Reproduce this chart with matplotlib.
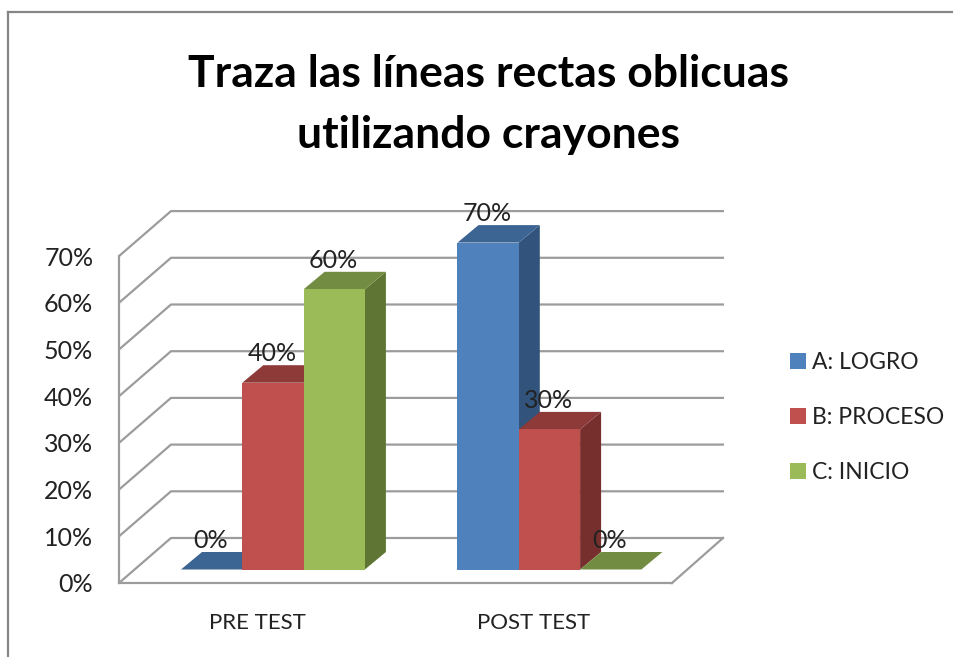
import matplotlib
matplotlib.use("Agg")
import matplotlib.pyplot as plt
from matplotlib.lines import Line2D
from matplotlib.patches import Patch

plt.rcParams['font.family'] = ['Lato', 'DejaVu Sans']

categories = ['PRE TEST', 'POST TEST']
series_names = ['A: LOGRO', 'B: PROCESO', 'C: INICIO']
logro = [0, 70]
proceso = [40, 30]
inicio = [60, 0]
y_ticks = [0, 10, 20, 30, 40, 50, 60, 70]
title = 'Traza las líneas rectas oblicuas\nutilizando crayones'

front_colors = ['#4F81BD', '#C0504D', '#9BBB59']
top_colors = ['#3C6594', '#8E3A38', '#728D42']
side_colors = ['#31537C', '#772F2E', '#5E7534']
grid_color = '#9C9C9C'
text_color = '#222222'

W, H = 954, 657
fig = plt.figure(figsize=(W / 100, H / 100), dpi=100)

# plot box in pixels, x units stay pixels, y units are percent
left, right, bottom, top = 119, 724, 583, 211.5
px_per_pct = 4.67
ax = fig.add_axes([left / W, 1 - bottom / H, (right - left) / W, (bottom - top) / H])
ax.set_xlim(0, right - left)
ax.set_ylim(0, (bottom - top) / px_per_pct)
ax.patch.set_alpha(0)

# floor / wall depth
wall_dx = 52
wall_dy = 45 / px_per_pct
front_w = 553

# gridlines run back along the side wall then across the back wall
for v in y_ticks:
    ax.plot([0, wall_dx, right - left], [v, v + wall_dy, v + wall_dy],
            color=grid_color, lw=1.6, clip_on=False, zorder=1, solid_capstyle='butt')
ax.plot([front_w, front_w + wall_dx - 1], [0, wall_dy], color=grid_color, lw=1.6, clip_on=False, zorder=1)

for s in ['top', 'right']:
    ax.spines[s].set_visible(False)
for s in ['left', 'bottom']:
    ax.spines[s].set_color(grid_color)
    ax.spines[s].set_linewidth(1.6)
ax.spines['left'].set_bounds(0, 70)
ax.spines['bottom'].set_bounds(0, front_w)

ax.set_yticks(y_ticks)
ax.set_yticklabels([f'{v}%' for v in y_ticks], fontsize=18, color=text_color)
ax.tick_params(axis='y', length=0, pad=18.5)
group_w = front_w / len(categories)
ax.set_xticks([group_w * (i + 0.5) for i in range(len(categories))])
ax.set_xticklabels(categories, fontsize=16, color=text_color)
ax.tick_params(axis='x', length=0, pad=21.5)

# 3d look of the bars
bar_w = 61.3
bar_start = 62
bar_base = 13.5 / px_per_pct
dx = 21
dy = 17.5 / px_per_pct

for s, vals in enumerate([logro, proceso, inicio]):
    for i, v in enumerate(vals):
        x0 = bar_start + group_w * i + bar_w * s
        x1 = x0 + bar_w
        y1 = bar_base + v
        if v > 0:
            ax.fill([x1, x1 + dx, x1 + dx, x1], [bar_base, bar_base + dy, y1 + dy, y1],
                    color=side_colors[s], lw=0, clip_on=False, zorder=2 + s)
        ax.fill([x0, x1, x1 + dx, x0 + dx], [y1, y1, y1 + dy, y1 + dy],
                color=top_colors[s], lw=0, clip_on=False, zorder=2 + s)
        if v > 0:
            ax.bar(x0, v, width=bar_w, bottom=bar_base, align='edge', color=front_colors[s],
                   lw=0, clip_on=False, zorder=2 + s)
        ax.text(x0 + bar_w / 2 - 1, y1 + 29 / px_per_pct, f'{v}%', ha='center', va='center',
                fontsize=18, color=text_color, zorder=10, clip_on=False)

fig.text(489 / W, 1 - 104.5 / H, title, ha='center', va='center', fontsize=32, fontweight='bold',
         color='black', linespacing=1.62)

handles = [Patch(facecolor=c, edgecolor='none') for c in front_colors]
fig.legend(handles, series_names, loc='center left', bbox_to_anchor=(769 / W, 1 - 417.5 / H),
           frameon=False, fontsize=16.5, labelcolor=text_color, handlelength=0.7, handleheight=0.7,
           handletextpad=0.26, labelspacing=1.49)

# chart frame, cropped on right and bottom
fig.add_artist(Line2D([8 / W, 8 / W], [0, 1 - 11.5 / H], color='#868686', lw=1.6))
fig.add_artist(Line2D([8 / W, 1], [1 - 11.5 / H, 1 - 11.5 / H], color='#868686', lw=1.6))

fig.savefig('out.png', dpi=100)
